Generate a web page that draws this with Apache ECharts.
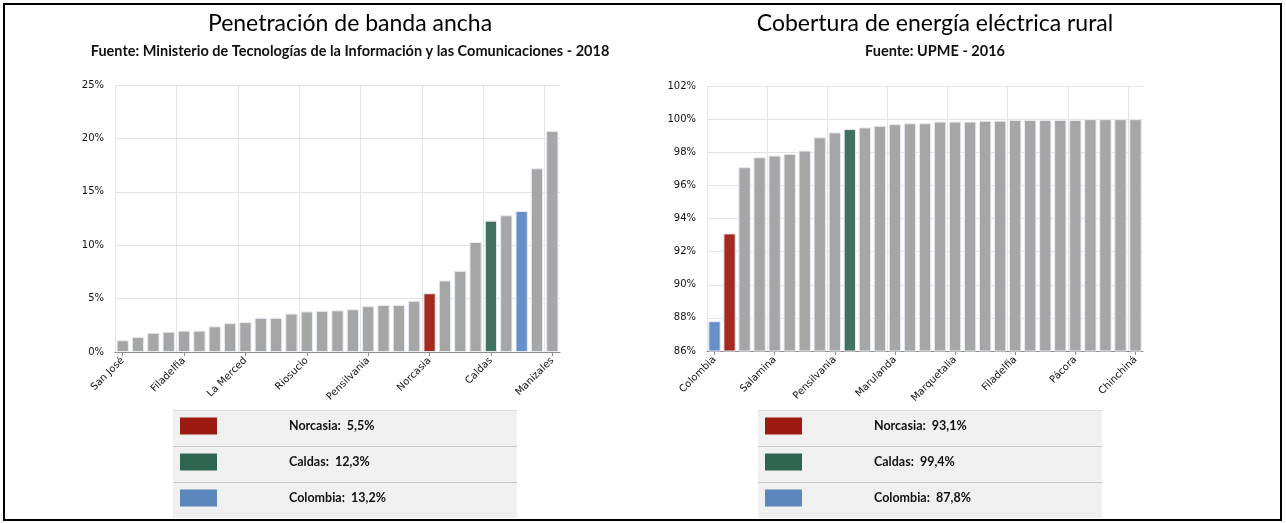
<!DOCTYPE html>
<html>
<head>
<meta charset="utf-8">
<script src="https://cdn.jsdelivr.net/npm/echarts@6/dist/echarts.min.js"></script>
<style>
html,body{margin:0;padding:0;background:#fff;}
#chart{width:1286px;height:523px;}
</style>
</head>
<body>
<div id="chart"></div>
<script>
// ---- Data: Penetración de banda ancha (2018) ----
const bbCategories = ['San José','Marmato','Samaná','Marulanda','Filadelfia','Victoria','Pácora','Aranzazu','La Merced','Palestina','Belalcázar','Risaralda','Riosucio','Marquetalia','Manzanares','Aguadas','Pensilvania','Salamina','Supía','Neira','Norcasia','Viterbo','Anserma','La Dorada','Caldas','Chinchiná','Colombia','Villamaría','Manizales'];
const bbValues = [1.1,1.4,1.8,1.9,2.0,2.0,2.4,2.7,2.8,3.2,3.2,3.6,3.8,3.85,3.9,4.0,4.3,4.4,4.4,4.8,5.5,6.7,7.6,10.3,12.3,12.8,13.2,17.2,20.7];
const bbTicks = [0,5,10,15,20,25];

// ---- Data: Cobertura de energía eléctrica rural (2016) ----
const elCategories = ['Colombia','Norcasia','Samaná','Aguadas','Salamina','Riosucio','Victoria','Marmato','Pensilvania','Caldas','Aranzazu','Supía','Marulanda','Manzanares','Neira','La Merced','Marquetalia','Belalcázar','San José','Risaralda','Filadelfia','Anserma','Viterbo','La Dorada','Pácora','Palestina','Villamaría','Manizales','Chinchiná'];
const elValues = [87.8,93.1,97.1,97.7,97.8,97.9,98.1,98.9,99.2,99.4,99.5,99.6,99.7,99.75,99.75,99.85,99.85,99.85,99.9,99.9,99.95,99.95,99.95,99.95,99.95,100,100,100,100];
const elTicks = [86,88,90,92,94,96,98,100,102];

// ---- Highlight legend entries ----
const bbLegendNames = ['Norcasia','Caldas','Colombia'];
const bbLegendLabels = ['5,5%','12,3%','13,2%'];
const elLegendNames = ['Norcasia','Caldas','Colombia'];
const elLegendLabels = ['93,1%','99,4%','87,8%'];

const barColors = {Norcasia:'#a5291f', Caldas:'#41725f', Colombia:'#6690c9'};
const swatchColors = {Norcasia:'#9c1a10', Caldas:'#2e6551', Colombia:'#5c87bc'};
const GRAY = '#a6a6a6';

function barData(cats, vals){
  return cats.map((c,i)=>({
    value: vals[i],
    itemStyle: {color: barColors[c] || GRAY}
  }));
}

const axisFont = {fontFamily:'DejaVu Sans', fontSize:10, color:'#111'};
const GRID_C = '#e4e4e4';
// vertical split lines: boundaries 0,4,...,28 shown; the closing edge line hidden
const vLineColors = [GRID_C,GRID_C,GRID_C,GRID_C,GRID_C,GRID_C,GRID_C,GRID_C,'rgba(0,0,0,0)'];

function xAxisFor(gridIndex, cats){
  return {
    type:'category', gridIndex, data: cats, boundaryGap:true,
    axisLine:{show:true, lineStyle:{color:'#8c8c8c', width:1}},
    axisTick:{show:true, alignWithLabel:true, interval:3, length:4, lineStyle:{color:'#8c8c8c'}},
    axisLabel:Object.assign({interval:3, rotate:45, margin:7}, axisFont),
    splitLine:{show:true, interval:3, lineStyle:{color:vLineColors, width:1}}
  };
}
function yAxisFor(gridIndex, ticks){
  return {
    type:'value', gridIndex, min:ticks[0], max:ticks[ticks.length-1], interval:ticks[1]-ticks[0],
    axisLine:{show:false}, axisTick:{show:false},
    axisLabel:Object.assign({formatter:'{value}%', margin:11}, axisFont),
    splitLine:{show:true, lineStyle:{color:GRID_C, width:1}}
  };
}

function legendGraphics(x0, names, labels){
  const els = [];
  const rowTop = [410, 446, 482];
  const rowH = 36;
  els.push({type:'rect', shape:{x:x0, y:410, width:344, height:108}, style:{fill:'#f0f0f0'}, silent:true});
  els.push({type:'rect', shape:{x:x0, y:410, width:344, height:1}, style:{fill:'#dcdcdc'}, silent:true});
  els.push({type:'rect', shape:{x:x0, y:446, width:344, height:1}, style:{fill:'#c8c8c8'}, silent:true});
  els.push({type:'rect', shape:{x:x0, y:482, width:344, height:1}, style:{fill:'#c8c8c8'}, silent:true});
  names.forEach((n,i)=>{
    els.push({type:'rect', shape:{x:x0+7, y:rowTop[i]+7.5, width:37, height:17}, style:{fill:swatchColors[n]}, silent:true});
    els.push({type:'text', x:x0+116, y:rowTop[i]+rowH/2-2, silent:true,
      style:{text:n+':  '+labels[i], fill:'#111', font:'bold 12.5px Lato', textVerticalAlign:'middle'}});
  });
  return els;
}

const chart = echarts.init(document.getElementById('chart'), null, {renderer:'canvas'});
const titleStyle = {fontFamily:'Lato', fontSize:23, fontWeight:'normal', color:'#000'};
const subStyle = {fontFamily:'Lato', fontSize:14.5, fontWeight:'bold', color:'#111'};

chart.setOption({
  backgroundColor:'#fff',
  animation:false,
  title:[
    {text:'Penetración de banda ancha', subtext:'Fuente: Ministerio de Tecnologías de la Información y las Comunicaciones - 2018',
     left:345, textAlign:'center', top:7, itemGap:9, textStyle:titleStyle, subtextStyle:subStyle},
    {text:'Cobertura de energía eléctrica rural', subtext:'Fuente: UPME - 2016',
     left:930, textAlign:'center', top:7, itemGap:9, textStyle:titleStyle, subtextStyle:subStyle}
  ],
  grid:[
    {left:115, right:726, top:85, bottom:171},
    {left:707, right:143, top:86, bottom:172}
  ],
  xAxis:[xAxisFor(0, bbCategories), xAxisFor(1, elCategories)],
  yAxis:[yAxisFor(0, bbTicks), yAxisFor(1, elTicks)],
  series:[
    {type:'bar', xAxisIndex:0, yAxisIndex:0, data:barData(bbCategories, bbValues), barCategoryGap:'20%',
     itemStyle:{borderColor:'#e6eaf2', borderWidth:1}},
    {type:'bar', xAxisIndex:1, yAxisIndex:1, data:barData(elCategories, elValues), barCategoryGap:'18%',
     itemStyle:{borderColor:'#e6eaf2', borderWidth:1}}
  ],
  graphic:[].concat(
    legendGraphics(173, bbLegendNames, bbLegendLabels),
    legendGraphics(758, elLegendNames, elLegendLabels),
    [{type:'rect', shape:{x:4, y:4, width:1277, height:516}, style:{fill:null, stroke:'#000', lineWidth:2}, silent:true, z:100}]
  )
});
</script>
</body>
</html>
